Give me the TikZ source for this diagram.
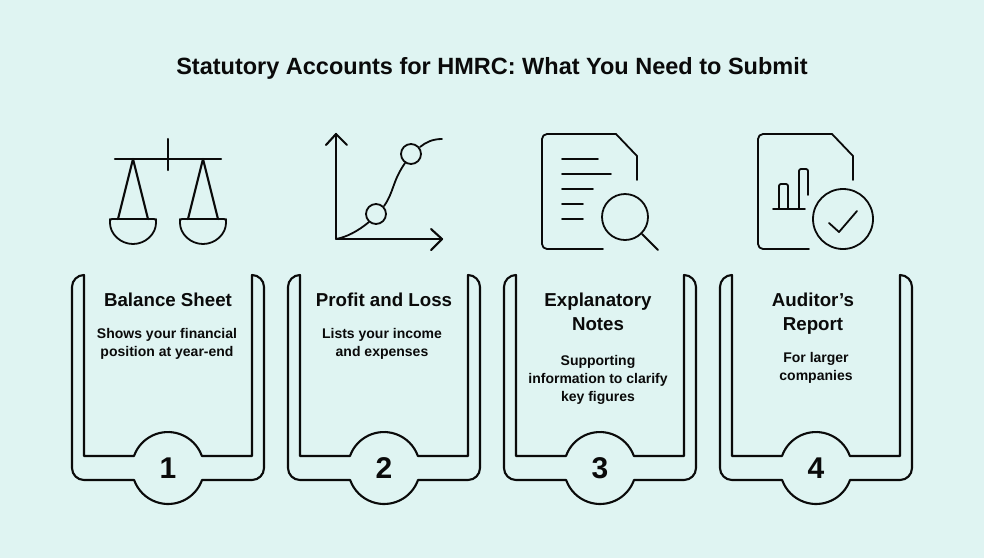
\documentclass[tikz,border=0pt]{standalone}
\usepackage{fontspec}
\setmainfont{Liberation Sans}
\definecolor{bgc}{HTML}{DFF4F2}
\definecolor{ink}{HTML}{0A0A0A}
\tikzset{
  x=1pt,y=-1pt,
  outline/.style={draw=ink,line width=2.1pt,line join=round,line cap=round},
  thin/.style={draw=ink,line width=1.8pt,line join=round,line cap=round},
  titletext/.style={font=\bfseries\fontsize{23.5}{28}\selectfont,text=ink,inner sep=0pt},
  headtext/.style={font=\bfseries\fontsize{18.7}{24}\selectfont,text=ink,align=center,inner sep=0pt,anchor=center},
  desctext/.style={font=\bfseries\fontsize{14}{18}\selectfont,text=ink,align=center,inner sep=0pt,anchor=center},
  numtext/.style={font=\bfseries\fontsize{30}{32}\selectfont,text=ink,inner sep=0pt},
  pics/card/.style={code={
    \draw[outline] (-84,-193) -- (-84,-12) -- (-34,-12) arc[start angle=199.5,end angle=340.5,radius=36] -- (84,-12) -- (84,-193)
      arc[start angle=-90,end angle=0,radius=12] -- (96,0) arc[start angle=0,end angle=90,radius=12] -- (34,12)
      arc[start angle=19.5,end angle=160.5,radius=36] -- (-84,12) arc[start angle=90,end angle=180,radius=12] -- (-96,-181) arc[start angle=180,end angle=270,radius=12] -- cycle;
  }}
}
\begin{document}
\begin{tikzpicture}
\path[fill=bgc] (0,0) rectangle (984,558);
\useasboundingbox (0,0) rectangle (984,558);
\node[titletext] (title) at (492,68) {Statutory Accounts for HMRC: What You Need to Submit};
% cards
\foreach \cx in {168,384,600,816} { \pic at (\cx,468) {card}; }
\node[numtext] (n1) at (168,468.5) {1};
\node[numtext] (n2) at (384,468.5) {2};
\node[numtext] (n3) at (600,468.5) {3};
\node[numtext] (n4) at (816,468.5) {4};
\node[headtext] (h1) at (168,300) {Balance Sheet};
\node[headtext] (h2) at (384,300) {Profit and Loss};
\node[headtext] (h3) at (598,312) {Explanatory\\Notes};
\node[headtext] (h4) at (813,314) {Auditor’s\\Report};
\node[desctext] (d1) at (167,344) {Shows your financial\\position at year-end};
\node[desctext] (d2) at (382,344) {Lists your income\\and expenses};
\node[desctext] (d3) at (598,380) {Supporting\\information to clarify\\key figures};
\node[desctext] (d4) at (816,368) {For larger\\companies};
% scales
\draw[outline] (115,159) -- (221,159);
\draw[outline] (168,139) -- (168,170);
\draw[outline] (118,219) -- (133,159) -- (148,219);
\draw[outline] (188,219) -- (203,159) -- (218,219);
\draw[thin,rounded corners=2pt] (133,219) -- (110,219) -- (110,221) arc[start angle=180,end angle=0,radius=23] -- (156,219) -- cycle;
\draw[thin,rounded corners=2pt] (203,219) -- (180,219) -- (180,221) arc[start angle=180,end angle=0,radius=23] -- (226,219) -- cycle;
% chart
\draw[outline] (326,145) -- (336,134) -- (347,145);
\draw[outline] (431,229) -- (442,239) -- (431,250);
\draw[outline] (336,134) -- (336,239) -- (442,239);
\draw[thin] (376,214) circle[radius=10];
\draw[thin] (411,154) circle[radius=10];
\draw[thin] (336,239) .. controls (347,237) and (358,231) .. (369,222);
\draw[thin] (384,206) .. controls (394,192) and (392,182) .. (405,163);
\draw[thin] (420,147) .. controls (426,142) and (433,139) .. (442,139);
% document and magnifier
\draw[thin,rounded corners=5pt] (603,249) -- (542,249) -- (542,134) -- (616,134);
\draw[thin] (616,134) -- (637,156) -- (637,180);
\draw[thin] (562,159) -- (598,159) (562,174) -- (611,174) (562,189) -- (593,189) (562,204) -- (583,204) (562,219) -- (583,219);
\draw[thin] (625,217) circle[radius=23];
\draw[thin] (642,234) -- (658,250);
% document and check
\draw[thin,rounded corners=5pt] (809,249) -- (758,249) -- (758,134) -- (832,134);
\draw[thin] (832,134) -- (853,156) -- (853,180);
\draw[thin] (773,209) -- (805,209);
\draw[thin,rounded corners=2pt] (779,209) -- (779,184) -- (788,184) -- (788,209);
\draw[thin,rounded corners=2pt] (799,209) -- (799,169) -- (808,169) -- (808,195);
\draw[thin] (843,219) circle[radius=30];
\draw[thin] (829,223) -- (839,232) -- (857,211);
\end{tikzpicture}
\end{document}
